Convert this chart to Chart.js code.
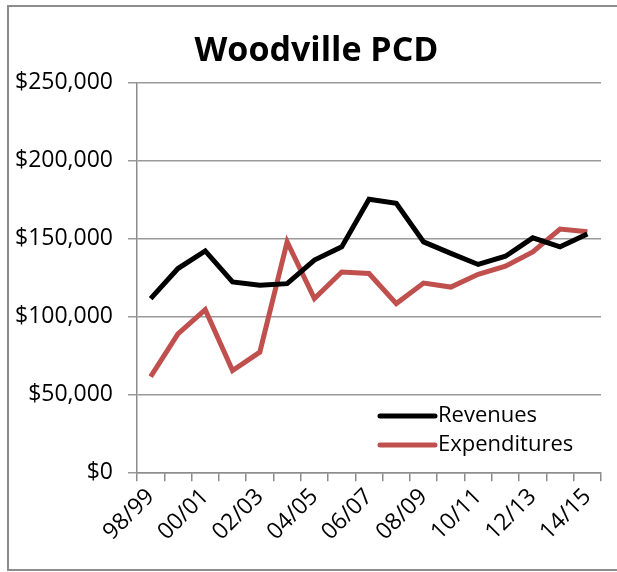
<!DOCTYPE html>
<html>
<head>
<meta charset="utf-8">
<script src="https://cdn.jsdelivr.net/npm/chart.js@4"></script>
<style>
  html, body { margin: 0; padding: 0; background: #fff; }
  #wrap { width: 617px; height: 572px; }
</style>
</head>
<body>
<div id="wrap"><canvas id="pcdChart"></canvas></div>
<script>
const years = ['98/99', '99/00', '00/01', '01/02', '02/03', '03/04', '04/05', '05/06', '06/07',
  '07/08', '08/09', '09/10', '10/11', '11/12', '12/13', '13/14', '14/15'];
const revenues = [111500, 130800, 142100, 122200, 120000, 121100, 136200, 144700, 175300,
  172700, 147900, 140500, 133400, 138700, 150500, 144700, 152900];
const expenditures = [61400, 88900, 104400, 65300, 77100, 147900, 111500, 128600, 127600,
  108300, 121500, 118900, 127100, 132300, 141500, 156100, 154400];
const yTicks = [0, 50000, 100000, 150000, 200000, 250000];

const FONT = "'Open Sans', 'Liberation Sans', sans-serif";

// outer frame like the spreadsheet export (left + top + bottom only)
const framePlugin = {
  id: 'frame',
  afterLayout(chart) {
    // title sits a bit right of the canvas centre in the original
    const t = chart.titleBlock;
    if (t) { t.left += 16; t.right += 16; }
  },
  beforeDraw(chart) {
    const ctx = chart.ctx;
    ctx.save();
    ctx.fillStyle = '#fff';
    ctx.fillRect(0, 0, chart.width, chart.height);
    ctx.strokeStyle = '#8c8c8c';
    ctx.lineWidth = 2;
    ctx.beginPath();
    ctx.moveTo(chart.width, 6);
    ctx.lineTo(8, 6);
    ctx.lineTo(8, 570);
    ctx.lineTo(chart.width, 570);
    ctx.stroke();
    ctx.restore();
  }
};

// legend sits inside the plot, bottom right
const insideLegend = {
  id: 'insideLegend',
  afterDatasetsDraw(chart) {
    const ctx = chart.ctx;
    const x0 = 380, y0 = 416, gap = 29;
    ctx.save();
    ctx.font = '22px ' + FONT;
    ctx.textBaseline = 'middle';
    chart.data.datasets.forEach((ds, i) => {
      const y = y0 + i * gap;
      ctx.strokeStyle = ds.borderColor;
      ctx.lineWidth = 5;
      ctx.lineCap = 'round';
      ctx.beginPath();
      ctx.moveTo(x0, y);
      ctx.lineTo(x0 + 55, y);
      ctx.stroke();
      ctx.fillStyle = '#000';
      ctx.fillText(ds.label, x0 + 58, y);
    });
    ctx.restore();
  }
};

new Chart(document.getElementById('pcdChart'), {
  type: 'line',
  data: {
    labels: years,
    datasets: [
      { label: 'Revenues', data: revenues, borderColor: '#000000', borderWidth: 5, pointRadius: 0, tension: 0 },
      { label: 'Expenditures', data: expenditures, borderColor: '#c0504d', borderWidth: 5, pointRadius: 0, tension: 0 }
    ]
  },
  options: {
    responsive: true,
    maintainAspectRatio: false,
    animation: false,
    layout: { padding: { left: 0, right: 16, top: 23, bottom: 24 } },
    plugins: {
      legend: { display: false },
      tooltip: { enabled: false },
      title: {
        display: true,
        text: 'Woodville PCD',
        color: '#000',
        font: { family: FONT, size: 34, weight: 'bold' },
        padding: { top: 8, bottom: 11 }
      }
    },
    scales: {
      x: {
        offset: true,
        border: { color: '#8c8c8c', width: 1.5 },
        grid: { offset: true, drawOnChartArea: false, drawTicks: true, tickLength: 9, color: '#8c8c8c', lineWidth: 1.5 },
        ticks: {
          autoSkip: false,
          maxRotation: 45,
          minRotation: 45,
          padding: 2,
          color: '#000',
          font: { family: FONT, size: 23 },
          callback: (v, i) => (i % 2 === 0 ? years[i] : '')
        }
      },
      y: {
        min: 0,
        max: 250000,
        afterBuildTicks: (axis) => { axis.ticks = yTicks.map(v => ({ value: v })); },
        border: { color: '#8c8c8c', width: 1.5 },
        grid: { color: '#9a9a9a', lineWidth: 1.5, tickLength: 9 },
        ticks: {
          padding: 15,
          color: '#000',
          font: { family: FONT, size: 23 },
          callback: (v) => '$' + v.toLocaleString('en-US')
        }
      }
    }
  },
  plugins: [framePlugin, insideLegend]
});
</script>
</body>
</html>
